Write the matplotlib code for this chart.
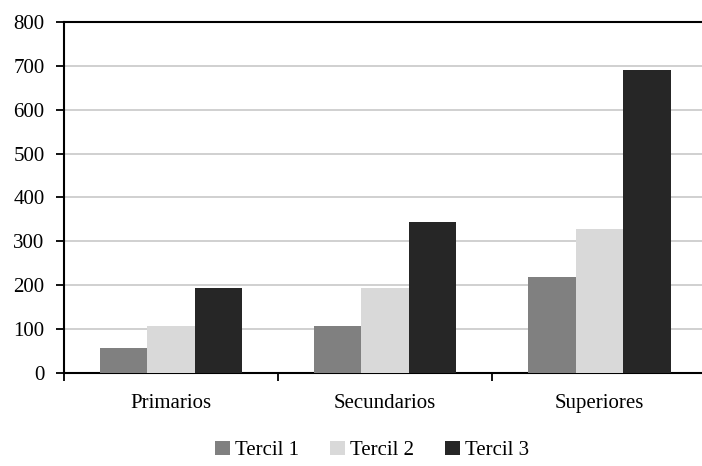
import numpy as np
import matplotlib
matplotlib.use("Agg")
import matplotlib.pyplot as plt

# Data
categories = ["Primarios", "Secundarios", "Superiores"]
series_labels = ["Tercil 1", "Tercil 2", "Tercil 3"]
tercil1 = [56, 106, 219]
tercil2 = [106, 193, 328]
tercil3 = [193, 343, 690]
colors = ["#808080", "#d9d9d9", "#262626"]

plt.rcParams["font.family"] = ["Liberation Serif", "DejaVu Serif"]

fig = plt.figure(figsize=(7.02, 4.66), dpi=100)
ax = fig.add_axes([0.0912, 0.1996, 0.915, 0.7534])

x = np.arange(len(categories))
width = 0.222
for i, (vals, lab, col) in enumerate(zip([tercil1, tercil2, tercil3], series_labels, colors)):
    ax.bar(x + (i - 1) * width, vals, width, color=col, label=lab, zorder=3)

ax.set_ylim(0, 800)
ax.set_yticks(range(0, 801, 100))
ax.set_xlim(-0.5, len(categories) - 0.5)
ax.set_xticks(np.arange(-0.5, len(categories), 1.0))
ax.set_xticklabels([])
ax.set_xticks(x, minor=True)
ax.set_xticklabels(categories, minor=True)
ax.tick_params(axis="x", which="minor", length=0, pad=15, labelsize=15)
ax.tick_params(axis="x", which="major", length=6, width=1.3, direction="out")
ax.tick_params(axis="y", length=6, width=1.3, direction="out", labelsize=15, pad=8)

ax.grid(axis="y", color="#c8c8c8", linewidth=1.2, zorder=0)
for s in ["left", "bottom", "top"]:
    ax.spines[s].set_linewidth(1.5)
    ax.spines[s].set_color("black")
ax.spines["right"].set_visible(False)

fig.legend(loc="lower center", bbox_to_anchor=(0.53, -0.028), ncol=3, frameon=False,
           fontsize=15, handlelength=0.7, handleheight=0.7, handletextpad=0.25,
           columnspacing=1.5)

fig.savefig("out.png", dpi=100)
